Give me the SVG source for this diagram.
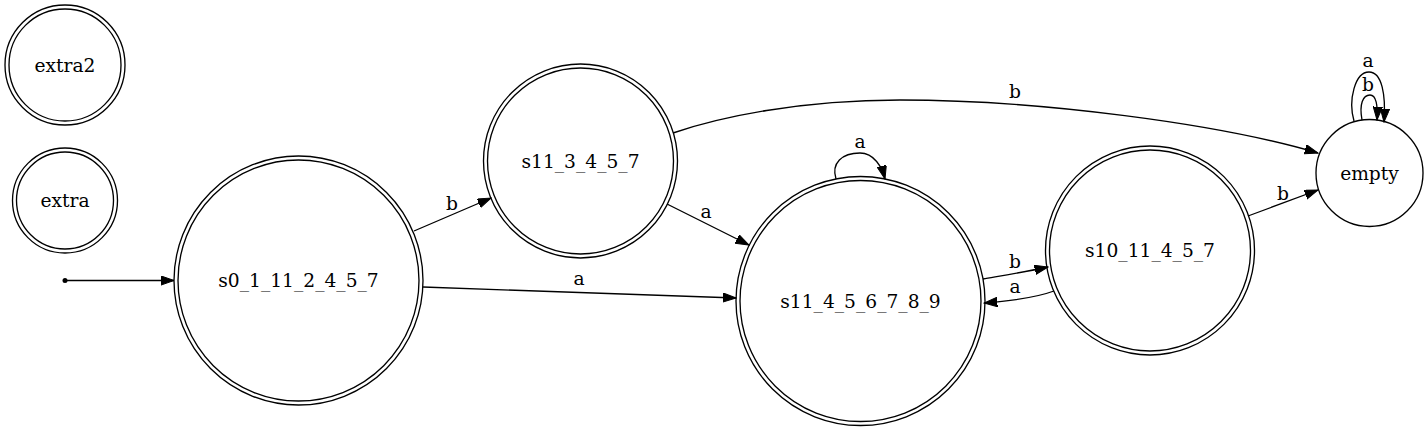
<svg xmlns="http://www.w3.org/2000/svg" width="1428" height="431" viewBox="0 0 1428 431">
<style>
.n{fill:none;stroke:#000;stroke-width:1.33}
.e{fill:none;stroke:#000;stroke-width:1.33;marker-end:url(#arr)}
text{font-family:"DejaVu Serif","Liberation Serif",serif;font-size:18.67px;fill:#000;text-anchor:middle}
</style>
<defs>
<marker id="arr" markerUnits="userSpaceOnUse" markerWidth="14" markerHeight="10" refX="13.3" refY="4.7" orient="auto" viewBox="0 0 14 10">
<path d="M0,0 L13.3,4.7 L0,9.4 z" fill="#000" stroke="#000" stroke-width="1"/>
</marker>
</defs>
<rect width="1428" height="431" fill="#fff"/>
<g id="edges">
<circle cx="65" cy="280.5" r="2.5" fill="#000"/>
<path class="e" d="M65,280.5 L174,280.5"/>
<path class="e" d="M414,231 L491,198"/>
<text x="452" y="210">b</text>
<path class="e" d="M423,287 L736,298"/>
<text x="579" y="285">a</text>
<path class="e" d="M667,204 L749,245"/>
<text x="706" y="218">a</text>
<path class="e" d="M673,133 C720,117 800,100 900,100 C1040,100 1220,124 1318,153"/>
<text x="1015" y="98">b</text>
<path class="e" d="M836,179 C831,163 842,153 860,153 C874,153 882,167 885,179"/>
<text x="860" y="148">a</text>
<path class="e" d="M983,279 C1000,276 1025,272 1048,267"/>
<text x="1015" y="268">b</text>
<path class="e" d="M1054,291 C1035,298 1010,301 984,303"/>
<text x="1015" y="293">a</text>
<path class="e" d="M1248,216 L1318,190"/>
<text x="1283" y="200">b</text>
<path class="e" d="M1354,121 C1348,100 1355,72 1369,72 C1382,72 1386,95 1384,122"/>
<text x="1368" y="67">a</text>
<path class="e" d="M1362,120 C1359,104 1363,95 1370,95 C1376,95 1378,105 1377,120"/>
<text x="1368" y="91">b</text>
</g>
<g id="extra2">
<circle class="n" cx="65" cy="65" r="56"/>
<circle class="n" cx="65" cy="65" r="60"/>
<text x="65" y="71.5">extra2</text>
</g>
<g id="extra">
<circle class="n" cx="65" cy="200.5" r="48.5"/>
<circle class="n" cx="65" cy="200.5" r="52.5"/>
<text x="65" y="207">extra</text>
</g>
<g id="s0_1_11_2_4_5_7">
<circle class="n" cx="298.5" cy="280.5" r="120.5"/>
<circle class="n" cx="298.5" cy="280.5" r="124.5"/>
<text x="298.5" y="287">s0_1_11_2_4_5_7</text>
</g>
<g id="s11_3_4_5_7">
<circle class="n" cx="580.5" cy="161" r="93"/>
<circle class="n" cx="580.5" cy="161" r="97"/>
<text x="580.5" y="167.5">s11_3_4_5_7</text>
</g>
<g id="s11_4_5_6_7_8_9">
<circle class="n" cx="860.5" cy="301" r="120.5"/>
<circle class="n" cx="860.5" cy="301" r="124.5"/>
<text x="860.5" y="307.5">s11_4_5_6_7_8_9</text>
</g>
<g id="s10_11_4_5_7">
<circle class="n" cx="1150" cy="250.5" r="100.5"/>
<circle class="n" cx="1150" cy="250.5" r="104.5"/>
<text x="1150" y="257">s10_11_4_5_7</text>
</g>
<g id="empty">
<circle class="n" cx="1369.5" cy="173" r="53.5"/>
<text x="1369.5" y="179.5">empty</text>
</g>
</svg>
